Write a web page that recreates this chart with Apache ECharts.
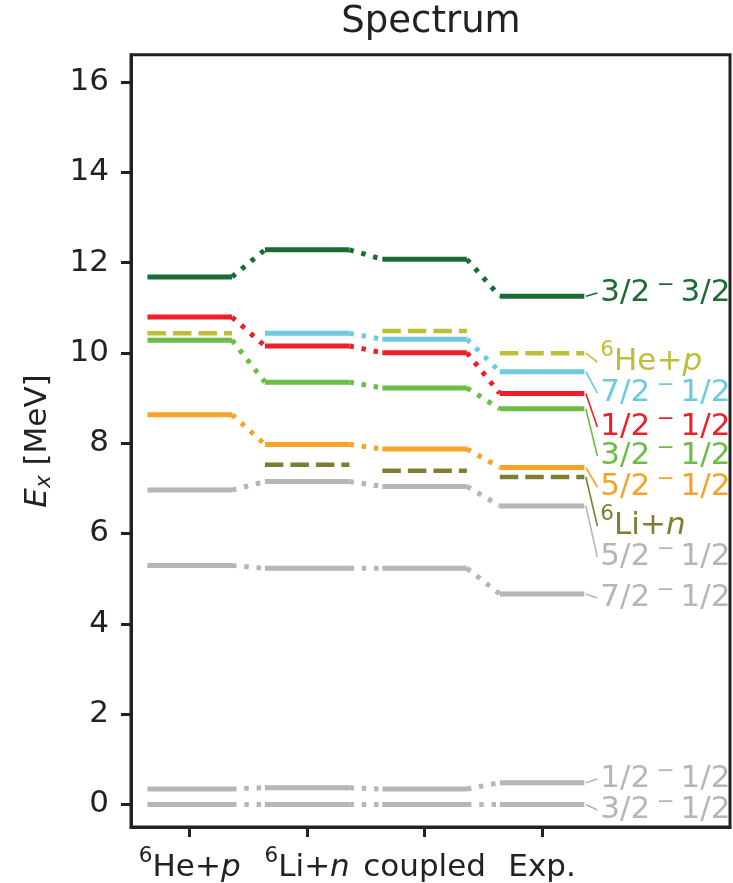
<!DOCTYPE html>
<html>
<head>
<meta charset="utf-8">
<title>Spectrum</title>
<script src="https://cdn.jsdelivr.net/npm/echarts@6/dist/echarts.min.js"></script>
<style>
  html, body { margin: 0; padding: 0; background: #ffffff; }
  #chart { width: 733px; height: 883px; }
</style>
</head>
<body>
<div id="chart"></div>
<script>
// ---- data -------------------------------------------------------------
// columns of the level scheme
const columns = ['6He+p', '6Li+n', 'coupled', 'Exp.'];
// tick labels under the columns (rich text: superscript mass number, italic particle)
const columnLabels = ['{sup|6}He+{i|p}', '{sup|6}Li+{i|n}', 'coupled', 'Exp.'];
// energy ticks [MeV]
const energyTicks = [0, 2, 4, 6, 8, 10, 12, 14, 16];

// excitation energies [MeV] per column (null = not computed in that column)
const lv32m_T32 = [11.68, 12.28, 12.07, 11.25];
const lv12m_T12 = [10.79, 10.15, 10.00, 9.10];
const lv72m_T12 = [null, 10.43, 10.30, 9.58];
const lv32m_T12 = [10.28, 9.35, 9.22, 8.76];
const lv52m_T12 = [8.63, 7.97, 7.87, 7.46];
const lv52m_T12b = [6.96, 7.15, 7.04, 6.61];
const lv72m_T12b = [5.29, 5.23, 5.23, 4.66];
const lv12m_T12b = [0.34, 0.37, 0.34, 0.48];
const lv32m_T12b = [0.00, 0.00, 0.00, 0.00];
// breakup thresholds [MeV]
const thr6HeP = [10.43, null, 10.48, 9.99];
const thr6LiN = [null, 7.52, 7.39, 7.25];

// ---- styling ----------------------------------------------------------
const FONT = 'DejaVu Sans';
const INK = '#222222';
const FS = 31;
const HALF = 0.36;            // half width of a level bar (column units)

// J^pi T tag, e.g. 3/2^- 1/2
const jt = (j, t) => j + '\u2009{m|−}\u200A' + t;

// tagY: where each right-hand tag sits (MeV), spread so tags do not overlap
const levels = [
  { values: lv72m_T12b, tag: jt('7/2', '1/2'), color: '#b5b5ba', threshold: false, tagY: 4.571 },
  { values: lv52m_T12b, tag: jt('5/2', '1/2'), color: '#b5b5ba', threshold: false, tagY: 5.479 },
  { values: lv12m_T12b, tag: jt('1/2', '1/2'), color: '#b5b5ba', threshold: false, tagY: 0.564 },
  { values: lv32m_T12b, tag: jt('3/2', '1/2'), color: '#b5b5ba', threshold: false, tagY: -0.122 },
  { values: thr6LiN, tag: '{sup|6}Li+{i|n}', color: '#7f7d34', threshold: true, tagY: 6.165 },
  { values: lv52m_T12, tag: jt('5/2', '1/2'), color: '#f9a326', threshold: false, tagY: 7.028 },
  { values: lv32m_T12, tag: jt('3/2', '1/2'), color: '#6cbd45', threshold: false, tagY: 7.714 },
  { values: thr6HeP, tag: '{sup|6}He+{i|p}', color: '#bfbe36', threshold: true, tagY: 9.795 },
  { values: lv72m_T12, tag: jt('7/2', '1/2'), color: '#6ecbdf', threshold: false, tagY: 9.109 },
  { values: lv12m_T12, tag: jt('1/2', '1/2'), color: '#ee1f26', threshold: false, tagY: 8.356 },
  { values: lv32m_T32, tag: jt('3/2', '3/2'), color: '#1b6b35', threshold: false, tagY: 11.323 }
];

// rich-text pieces: italic symbols, raised mass number, raised minus sign, lowered index
function richFor(color, key) {
  return {
    i: { fontStyle: 'italic', fontSize: FS, fontFamily: FONT, [key]: color },
    sup: { fontSize: 21.5, fontFamily: FONT, height: 8, verticalAlign: 'top', [key]: color },
    m: { fontSize: 21.5, fontFamily: FONT, height: 15, verticalAlign: 'top', padding: [0, 3, 0, 0], [key]: color },
    sub: { fontSize: 21.5, fontStyle: 'italic', fontFamily: FONT, height: 19, verticalAlign: 'bottom', [key]: color }
  };
}

// level bars (kind 0), dotted links between columns (kind 1), dashed thresholds (kind 2)
function segmentsOf(vals, isThreshold) {
  const out = [];
  vals.forEach((v, i) => {
    if (v == null) return;
    out.push([i - HALF, v, i + HALF, v, isThreshold ? 2 : 0]);
    const next = vals[i + 1];
    if (!isThreshold && i + 1 < vals.length && next != null) {
      out.push([i + HALF, v, i + 1 - HALF, next, 1]);
    }
  });
  return out;
}

const levelSeries = levels.map(lv => ({
  type: 'custom',
  coordinateSystem: 'cartesian2d',
  silent: true,
  clip: true,
  encode: { x: [0, 2], y: [1, 3] },
  data: segmentsOf(lv.values, lv.threshold),
  renderItem: (params, api) => {
    const a = api.coord([api.value(0), api.value(1)]);
    const b = api.coord([api.value(2), api.value(3)]);
    const k = api.value(4);
    return {
      type: 'line',
      shape: { x1: a[0], y1: a[1], x2: b[0], y2: b[1] },
      style: {
        stroke: lv.color,
        lineWidth: k === 2 ? 4.5 : 5,
        lineDash: k === 1 ? [4.5, 7.8] : (k === 2 ? [18.5, 7] : null),
        lineCap: 'butt',
        fill: null
      }
    };
  }
}));

// tags at the right of the experimental column
const expCol = columns.length - 1;
const tagSeries = {
  type: 'custom',
  coordinateSystem: 'cartesian2d',
  silent: true,
  clip: false,
  encode: { x: 0, y: [1, 2] },
  data: levels.map((lv, i) => [expCol + HALF, lv.values[expCol], lv.tagY, i]),
  renderItem: (params, api) => {
    const lv = levels[api.value(3)];
    const a = api.coord([api.value(0), api.value(1)]);
    const b = api.coord([api.value(0), api.value(2)]);
    return {
      type: 'group',
      children: [
        {
          type: 'polyline',
          shape: { points: [[a[0] + 1.5, a[1]], [a[0] + 13, b[1]]] },
          style: { stroke: lv.color, lineWidth: 1.6, fill: null }
        },
        {
          type: 'text',
          x: a[0] + 16,
          y: b[1],
          style: {
            text: lv.tag,
            fill: lv.color,
            fontSize: FS,
            fontFamily: FONT,
            align: 'left',
            verticalAlign: 'middle',
            rich: richFor(lv.color, 'fill')
          }
        }
      ]
    };
  }
};

const chart = echarts.init(document.getElementById('chart'), null, { renderer: 'canvas' });
chart.setOption({
  animation: false,
  backgroundColor: '#ffffff',
  grid: {
    show: true, borderColor: INK, borderWidth: 3,
    left: 131, right: 3, top: 54.7, bottom: 56
  },
  graphic: [
    {
      type: 'text', x: 431, y: 22,
      style: { text: 'Spectrum', fontSize: 37, fontFamily: FONT, fill: INK, align: 'center', verticalAlign: 'middle' }
    },
    {
      type: 'text', x: 38, y: 441, rotation: Math.PI / 2,
      style: {
        text: '{i|E}{sub|x} [MeV]', fontSize: FS, fontFamily: FONT, fill: INK,
        align: 'center', verticalAlign: 'middle',
        rich: richFor(INK, 'fill')
      }
    }
  ],
  xAxis: {
    type: 'value', min: -0.5, max: 4.6,
    axisLine: { show: true, onZero: false, lineStyle: { color: INK, width: 3 } },
    axisTick: { show: true, customValues: columns.map((c, i) => i), length: 10, lineStyle: { color: INK, width: 3 } },
    axisLabel: {
      show: true, customValues: columns.map((c, i) => i),
      formatter: v => columnLabels[Math.round(v)],
      fontSize: FS, fontFamily: FONT, color: INK, margin: 25,
      rich: richFor(INK, 'color')
    },
    splitLine: { show: false }
  },
  yAxis: {
    type: 'value', min: -0.5, max: 16.6,
    axisLine: { show: true, onZero: false, lineStyle: { color: INK, width: 3 } },
    axisTick: { show: true, customValues: energyTicks, length: 10, lineStyle: { color: INK, width: 3 } },
    axisLabel: {
      show: true, customValues: energyTicks,
      fontSize: FS, fontFamily: FONT, color: INK, margin: 22
    },
    splitLine: { show: false }
  },
  series: [...levelSeries, tagSeries]
});
</script>
</body>
</html>
